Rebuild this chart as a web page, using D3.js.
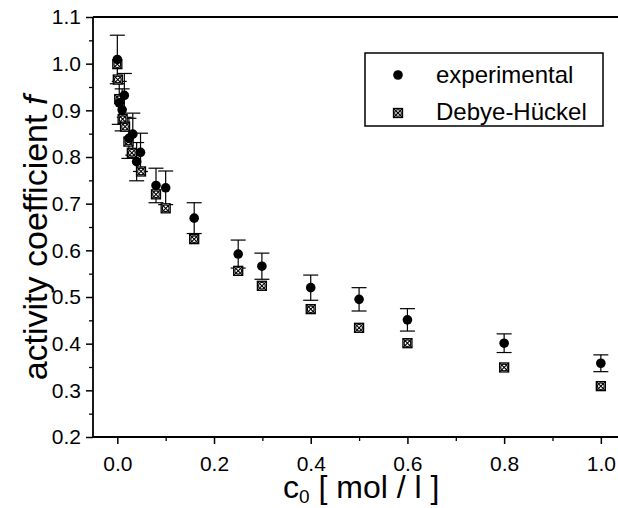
<!DOCTYPE html>
<html>
<head>
<meta charset="utf-8">
<script src="https://cdn.jsdelivr.net/npm/d3@7"></script>
<style>
  body { margin: 0; background: #fff; }
  svg text { font-family: "Liberation Sans", Arial, sans-serif; fill: #000; }
</style>
</head>
<body>
<div id="chart"></div>
<script>
// experimental activity coefficients
var expC = [0, 0.0145, 0.004, 0.010, 0.032, 0.024, 0.048, 0.040, 0.080, 0.100, 0.159, 0.250, 0.299, 0.4, 0.5, 0.6, 0.8, 1.0];
var expF = [1.009, 0.932, 0.916, 0.901, 0.849, 0.840, 0.810, 0.790, 0.739, 0.734, 0.669, 0.592, 0.566, 0.520, 0.495, 0.451, 0.401, 0.358];
var expErr = [0.052, 0.047, 0.046, 0.045, 0.045, 0.043, 0.041, 0.041, 0.037, 0.036, 0.033, 0.030, 0.028, 0.027, 0.025, 0.024, 0.020, 0.018];

// Debye-Hückel values
var dhC = [0, 0.001, 0.004, 0.011, 0.016, 0.023, 0.030, 0.049, 0.080, 0.100, 0.159, 0.250, 0.299, 0.4, 0.5, 0.6, 0.8, 1.0];
var dhF = [0.999, 0.966, 0.924, 0.881, 0.865, 0.833, 0.809, 0.769, 0.720, 0.690, 0.624, 0.556, 0.524, 0.474, 0.434, 0.401, 0.349, 0.309];

var xTicks = [0, 0.2, 0.4, 0.6, 0.8, 1.0];
var yTicks = [0.2, 0.3, 0.4, 0.5, 0.6, 0.7, 0.8, 0.9, 1.0, 1.1];
var legendLabels = ["experimental", "Debye-Hückel"];

var W = 618, H = 508;
var margin = { top: 17, right: 0, bottom: 71, left: 93 };

var svg = d3.select("#chart").append("svg")
    .attr("width", W)
    .attr("height", H);

var x = d3.scaleLinear()
    .domain([-0.0503, 1.0355])
    .range([margin.left, W - margin.right]);
var y = d3.scaleLinear()
    .domain([0.2, 1.1])
    .range([H - margin.bottom, margin.top]);

// minor ticks
svg.append("g")
    .attr("transform", "translate(0," + (H - margin.bottom) + ")")
    .call(d3.axisBottom(x).tickValues([0.1, 0.3, 0.5, 0.7, 0.9]).tickSize(4).tickFormat(""))
    .call(g => g.select(".domain").remove())
    .selectAll("line").attr("stroke-width", 1.3);
svg.append("g")
    .attr("transform", "translate(" + margin.left + ",0)")
    .call(d3.axisLeft(y).tickValues(d3.range(0.25, 1.1, 0.1)).tickSize(4).tickFormat(""))
    .call(g => g.select(".domain").remove())
    .selectAll("line").attr("stroke-width", 1.3);

// X axis
var gx = svg.append("g")
    .attr("transform", "translate(0," + (H - margin.bottom) + ")")
    .call(d3.axisBottom(x).tickValues(xTicks).tickSize(7).tickPadding(12).tickFormat(d3.format(".1f")));
gx.select(".domain").attr("d", "M" + margin.left + ",0H" + W).attr("stroke-width", 1.8);
gx.selectAll(".tick line").attr("stroke-width", 1.5);
gx.selectAll(".tick text").style("font-size", "21px");

// Y axis
var gy = svg.append("g")
    .attr("transform", "translate(" + margin.left + ",0)")
    .call(d3.axisLeft(y).tickValues(yTicks).tickSize(7).tickPadding(5).tickFormat(d3.format(".1f")));
gy.select(".domain").attr("d", "M0," + margin.top + "V" + (H - margin.bottom)).attr("stroke-width", 1.8);
gy.selectAll(".tick line").attr("stroke-width", 1.5);
gy.selectAll(".tick text").style("font-size", "21px");

// top frame line
svg.append("line")
    .attr("x1", margin.left).attr("x2", W)
    .attr("y1", y(1.1)).attr("y2", y(1.1))
    .attr("stroke", "#000").attr("stroke-width", 1.8);

// axis titles
var xt = svg.append("text")
    .attr("x", 283).attr("y", 498)
    .style("font-size", "32px");
xt.append("tspan").text("c");
xt.append("tspan").attr("dy", 5).style("font-size", "19px").text("0");
xt.append("tspan").attr("dy", -5).text(" [ mol / l ]");

var yt = svg.append("text")
    .attr("transform", "translate(47," + 238 + ")rotate(-90)")
    .attr("text-anchor", "middle")
    .style("font-size", "34px");
yt.append("tspan").text("activity coefficient  ");
yt.append("tspan").style("font-style", "italic").text("f");

// error bars
var expData = expC.map(function(c, i) { return { c: c, f: expF[i], e: expErr[i] }; });
var dhData = dhC.map(function(c, i) { return { c: c, f: dhF[i] }; });

var bars = svg.append("g").attr("stroke", "#000").attr("stroke-width", 1.2);
expData.forEach(function(d) {
    var cx = x(d.c);
    bars.append("line").attr("x1", cx).attr("x2", cx).attr("y1", y(d.f + d.e)).attr("y2", y(d.f - d.e));
    bars.append("line").attr("x1", cx - 7.5).attr("x2", cx + 7.5).attr("y1", y(d.f + d.e)).attr("y2", y(d.f + d.e));
    bars.append("line").attr("x1", cx - 7.5).attr("x2", cx + 7.5).attr("y1", y(d.f - d.e)).attr("y2", y(d.f - d.e));
});

// crossed square marker
function dhMarker(g, cx, cy, s) {
    var h = s / 2;
    g.append("rect").attr("x", cx - h).attr("y", cy - h).attr("width", s).attr("height", s)
        .attr("fill", "#fff").attr("stroke", "#000").attr("stroke-width", 1.3);
    g.append("circle").attr("cx", cx).attr("cy", cy).attr("r", h - 1.2)
        .attr("fill", "none").attr("stroke", "#000").attr("stroke-width", 1.1);
    g.append("path").attr("d", "M" + (cx - h) + "," + (cy - h) + "L" + (cx + h) + "," + (cy + h) +
        "M" + (cx + h) + "," + (cy - h) + "L" + (cx - h) + "," + (cy + h))
        .attr("stroke", "#000").attr("stroke-width", 1.1);
}

var sq = svg.append("g");
dhData.forEach(function(d) { dhMarker(sq, x(d.c), y(d.f), 9); });

svg.append("g").selectAll("circle")
    .data(expData)
    .enter()
    .append("circle")
    .attr("cx", function(d) { return x(d.c); })
    .attr("cy", function(d) { return y(d.f); })
    .attr("r", 4.8)
    .attr("fill", "#000");

// legend
var lg = svg.append("g");
lg.append("rect").attr("x", 365).attr("y", 53).attr("width", 238).attr("height", 73)
    .attr("fill", "#fff").attr("stroke", "#000").attr("stroke-width", 1.5);
lg.append("circle").attr("cx", 398).attr("cy", 75).attr("r", 4.8).attr("fill", "#000");
dhMarker(lg, 398, 113, 9);
lg.selectAll("text.lab")
    .data(legendLabels)
    .enter()
    .append("text")
    .attr("class", "lab")
    .attr("x", 436)
    .attr("y", function(d, i) { return 83 + i * 37; })
    .style("font-size", "24px")
    .text(function(d) { return d; });
</script>
</body>
</html>
